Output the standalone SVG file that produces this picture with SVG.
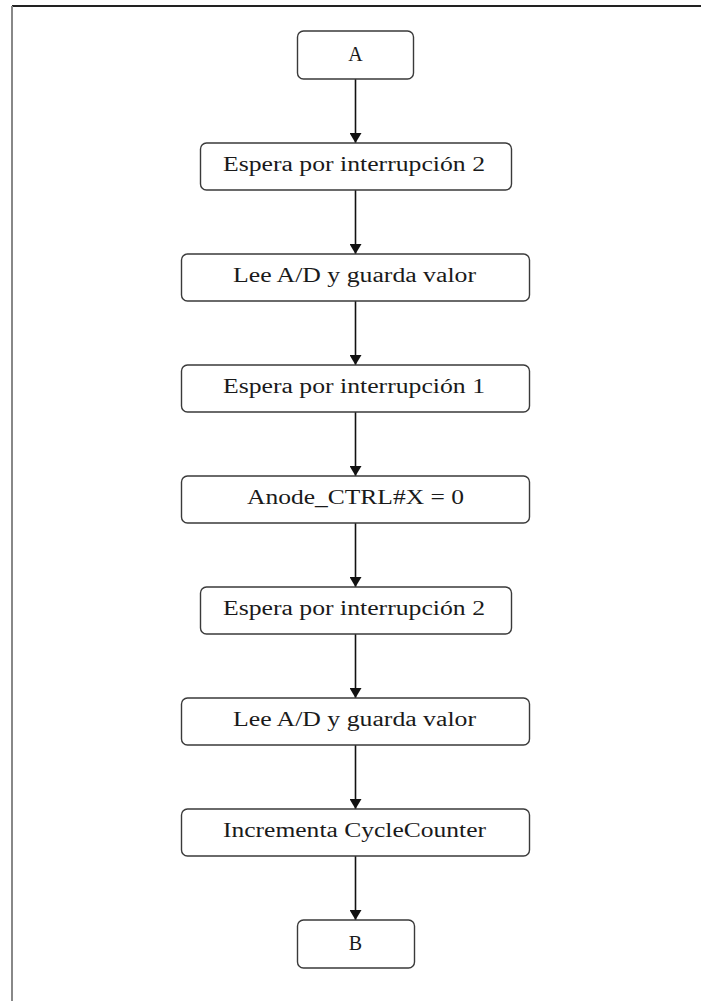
<svg xmlns="http://www.w3.org/2000/svg" width="701" height="1001" viewBox="0 0 701 1001">
  <style>
    .box { fill: #ffffff; stroke: #3a3a3a; stroke-width: 1.4; }
    .lbl { font-family: "Liberation Serif", "Times New Roman", serif; font-size: 20px; fill: #1a1a1a; text-anchor: middle; }
    .wire { stroke: #111; stroke-width: 1.6; fill: none; marker-end: url(#arrow); }
  </style>
  <defs>
    <marker id="arrow" viewBox="0 0 10 12" refX="10" refY="6" markerUnits="userSpaceOnUse" markerWidth="10" markerHeight="12" orient="auto">
      <path d="M0,0 L10,6 L0,12 z" fill="#111"/>
    </marker>
  </defs>
  <rect x="0" y="0" width="701" height="1001" fill="#ffffff"/>
  <!-- page frame -->
  <line x1="12" y1="6" x2="701" y2="6" stroke="#222" stroke-width="2"/>
  <line x1="12" y1="6" x2="12" y2="1001" stroke="#888" stroke-width="2"/>

  <g id="connectors">
    <line class="wire" x1="355.5" y1="79" x2="355.5" y2="143"/>
    <line class="wire" x1="355.5" y1="190" x2="355.5" y2="254"/>
    <line class="wire" x1="355.5" y1="301" x2="355.5" y2="365"/>
    <line class="wire" x1="355.5" y1="412" x2="355.5" y2="476"/>
    <line class="wire" x1="355.5" y1="523" x2="355.5" y2="587"/>
    <line class="wire" x1="355.5" y1="634" x2="355.5" y2="698"/>
    <line class="wire" x1="355.5" y1="745" x2="355.5" y2="809"/>
    <line class="wire" x1="355.5" y1="856" x2="355.5" y2="920"/>
  </g>

  <g id="nodeA">
    <rect class="box" x="297.5" y="31" width="116" height="48" rx="6"/>
    <text class="lbl" x="355.5" y="61">A</text>
  </g>
  <g id="node1">
    <rect class="box" x="200.5" y="143" width="311" height="47" rx="6"/>
    <text class="lbl" x="354" y="171" textLength="262" lengthAdjust="spacingAndGlyphs">Espera por interrupción 2</text>
  </g>
  <g id="node2">
    <rect class="box" x="181.5" y="254" width="348" height="47" rx="6"/>
    <text class="lbl" x="354.5" y="282" textLength="243" lengthAdjust="spacingAndGlyphs">Lee A/D y guarda valor</text>
  </g>
  <g id="node3">
    <rect class="box" x="181.5" y="365" width="348" height="47" rx="6"/>
    <text class="lbl" x="354" y="393" textLength="262" lengthAdjust="spacingAndGlyphs">Espera por interrupción 1</text>
  </g>
  <g id="node4">
    <rect class="box" x="181.5" y="476" width="348" height="47" rx="6"/>
    <text class="lbl" x="355.5" y="504" textLength="217" lengthAdjust="spacingAndGlyphs">Anode_CTRL#X = 0</text>
  </g>
  <g id="node5">
    <rect class="box" x="200.5" y="587" width="311" height="47" rx="6"/>
    <text class="lbl" x="354" y="615" textLength="262" lengthAdjust="spacingAndGlyphs">Espera por interrupción 2</text>
  </g>
  <g id="node6">
    <rect class="box" x="181.5" y="698" width="348" height="47" rx="6"/>
    <text class="lbl" x="354.5" y="726" textLength="243" lengthAdjust="spacingAndGlyphs">Lee A/D y guarda valor</text>
  </g>
  <g id="node7">
    <rect class="box" x="181.5" y="809" width="348" height="47" rx="6"/>
    <text class="lbl" x="354.5" y="837" textLength="263" lengthAdjust="spacingAndGlyphs">Incrementa CycleCounter</text>
  </g>
  <g id="nodeB">
    <rect class="box" x="297.5" y="920" width="117" height="48" rx="6"/>
    <text class="lbl" x="355.5" y="950">B</text>
  </g>
</svg>
